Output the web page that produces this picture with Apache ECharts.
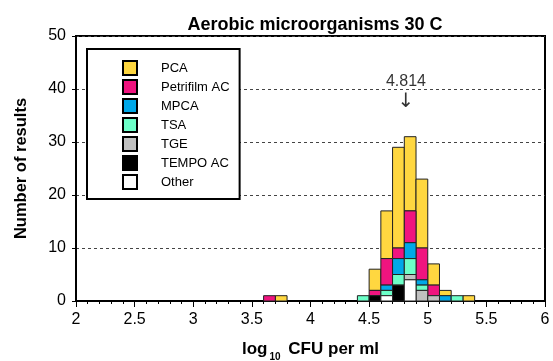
<!DOCTYPE html>
<html>
<head>
<meta charset="utf-8">
<script src="https://cdn.jsdelivr.net/npm/echarts@6/dist/echarts.min.js"></script>
<style>
  html, body { margin: 0; padding: 0; background: #fff; }
  #chart { width: 553px; height: 361px; }
</style>
</head>
<body>
<div id="chart"></div>
<script>
// histogram bins (left edges, log10 CFU per ml), width 0.1
const binStarts = [3.6, 3.7, 4.4, 4.5, 4.6, 4.7, 4.8, 4.9, 5.0, 5.1, 5.2, 5.3];
const binWidth = 0.1;

// counts per method, one value per bin
const pca       = [0, 1, 0, 4, 9, 19, 14, 13, 4, 1, 0, 1];
const petrifilm = [1, 0, 0, 1, 5, 2, 6, 6, 2, 0, 0, 0];
const mpca      = [0, 0, 0, 0, 1, 3, 3, 1, 0, 1, 0, 0];
const tsa       = [0, 0, 1, 0, 1, 2, 3, 1, 0, 0, 1, 0];
const tge       = [0, 0, 0, 0, 0, 0, 1, 2, 1, 0, 0, 0];
const tempo     = [0, 0, 0, 1, 0, 3, 0, 0, 0, 0, 0, 0];
const other     = [0, 0, 0, 0, 1, 0, 4, 0, 0, 0, 0, 0];

const methodNames = ["PCA", "Petrifilm AC", "MPCA", "TSA", "TGE", "TEMPO AC", "Other"];
const methodCounts = [pca, petrifilm, mpca, tsa, tge, tempo, other];
const methodColors = ["#FFD740", "#F0147F", "#00A8E8", "#6CFFC8", "#C0C0C0", "#000000", "#FFFFFF"];

const xTicks = [2, 2.5, 3, 3.5, 4, 4.5, 5, 5.5, 6];
const yTicks = [0, 10, 20, 30, 40, 50];

const consensus = 4.814;

var myChart = echarts.init(document.getElementById("chart"));

// stack from bottom: Other, TEMPO AC, TGE, TSA, MPCA, Petrifilm AC, PCA
const base = binStarts.map(() => 0);
const stacked = [];
for (let m = methodNames.length - 1; m >= 0; m--) {
  const rows = [];
  binStarts.forEach((x, i) => {
    const c = methodCounts[m][i];
    if (c > 0) {
      rows.push([x, x + binWidth, base[i], base[i] + c]);
      base[i] += c;
    }
  });
  stacked[m] = rows;
}

function renderItem(params, api) {
  const p0 = api.coord([api.value(0), api.value(2)]);
  const p1 = api.coord([api.value(1), api.value(3)]);
  return {
    type: "rect",
    shape: { x: p0[0], y: p1[1], width: p1[0] - p0[0], height: p0[1] - p1[1] },
    style: { fill: methodColors[params.seriesIndex], stroke: "#222", lineWidth: 1 },
  };
}

const series = methodNames.map((name, m) => ({
  name: name,
  type: "custom",
  renderItem: renderItem,
  encode: { x: [0, 1], y: [2, 3] },
  itemStyle: { color: methodColors[m] },
  data: stacked[m],
  z: 3,
}));

// consensus value label with arrow
series.push({
  type: "scatter",
  data: [[consensus, 39.5]],
  symbolSize: 0,
  silent: true,
  label: {
    show: true,
    position: "inside",
    color: "#000",
    textBorderWidth: 0,
    formatter: "{a|" + consensus + "}\n{b|↓}",
    rich: {
      a: { fontSize: 16, color: "#000", fontFamily: "Liberation Sans", lineHeight: 20, textBorderWidth: 0 },
      b: { fontSize: 20, color: "#000", fontFamily: "DejaVu Sans", lineHeight: 20, textBorderWidth: 0 },
    },
  },
});

var option = {
  animation: false,
  textStyle: { fontFamily: "Liberation Sans" },
  title: {
    text: "Aerobic microorganisms 30 C",
    left: 310,
    textAlign: "center",
    top: 11,
    textStyle: { fontSize: 18, fontWeight: "bold", color: "#000" },
  },
  grid: {
    left: 76,
    right: 8,
    top: 36,
    bottom: 60,
    outerBoundsMode: "none",
    containLabel: false,
    show: true,
    borderColor: "#000",
    borderWidth: 2,
  },
  legend: {
    orient: "vertical",
    left: 87,
    top: 49,
    icon: "rect",
    itemWidth: 14,
    itemHeight: 14,
    itemGap: 3,
    padding: [11, 10, 9, 35],
    backgroundColor: "#fff",
    borderColor: "#000",
    borderWidth: 2,
    borderRadius: 0,
    selectedMode: false,
    textStyle: { fontSize: 13, color: "#000", lineHeight: 14, padding: [0, 0, 0, 19] },
    data: methodNames.map((n, m) => ({
      name: n,
      itemStyle: { color: methodColors[m], borderColor: "#000", borderWidth: 2 },
    })),
  },
  xAxis: {
    type: "value",
    min: xTicks[0],
    max: xTicks[xTicks.length - 1],
    interval: 0.5,
    name: "{b|log}{s|10}{b| CFU per ml}",
    nameLocation: "middle",
    nameGap: 35,
    nameTextStyle: {
      rich: {
        b: { fontSize: 17, fontWeight: "bold", color: "#000" },
        s: { fontSize: 10, fontWeight: "bold", color: "#000", padding: [16, 3, 0, 2] },
      },
    },
    axisLine: { lineStyle: { color: "#000", width: 2 } },
    axisTick: { length: 6, lineStyle: { color: "#000", width: 1 } },
    minorTick: { show: true, splitNumber: 5, length: 3, lineStyle: { color: "#000", width: 1 } },
    axisLabel: {
      fontSize: 16,
      color: "#000",
      margin: 11,
      formatter: (v) => String(v),
    },
    splitLine: { show: false },
  },
  yAxis: {
    type: "value",
    min: yTicks[0],
    max: yTicks[yTicks.length - 1],
    interval: 10,
    name: "Number of results",
    nameLocation: "middle",
    nameGap: 46,
    nameTextStyle: { fontSize: 16.5, fontWeight: "bold", color: "#000" },
    axisLine: { lineStyle: { color: "#000", width: 2 } },
    axisTick: { length: 4, lineStyle: { color: "#000", width: 1 } },
    axisLabel: { fontSize: 16, color: "#000", margin: 10 },
    splitLine: {
      show: true,
      lineStyle: { color: "#444", width: 1, type: [3, 3] },
    },
  },
  series: series,
};

myChart.setOption(option, true);
</script>
</body>
</html>
